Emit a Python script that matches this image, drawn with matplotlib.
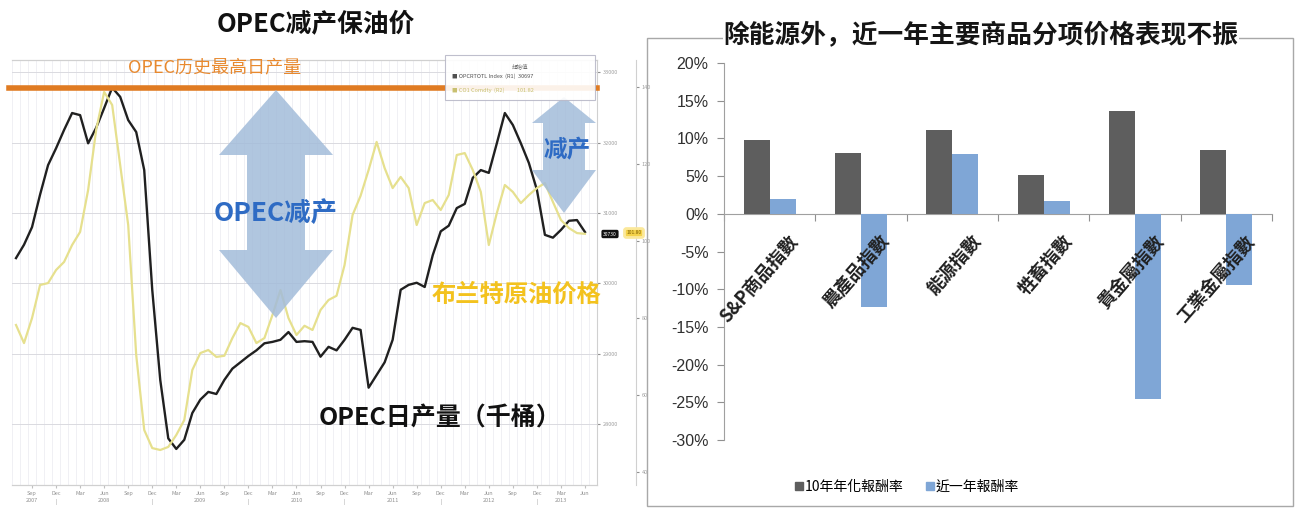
import matplotlib
matplotlib.use("Agg")
import matplotlib.pyplot as plt
import numpy as np
from matplotlib.patches import Polygon, Rectangle
from matplotlib.lines import Line2D

plt.rcParams['font.family'] = ['Noto Sans CJK SC', 'DejaVu Sans']

# ---------------- data ----------------
# monthly, Jul 2007 .. Jun 2013
opec_kbd = [30360, 30550, 30800, 31260, 31680, 31920, 32180, 32420, 32390, 31990,
            32210, 32490, 32780, 32650, 32320, 32150, 31610, 29910, 28630, 27800,
            27650, 27780, 28160, 28350, 28460, 28430, 28630, 28790, 28880, 28970,
            29050, 29150, 29170, 29200, 29310, 29170, 29180, 29170, 28960, 29100,
            29050, 29200, 29370, 29340, 28520, 28700, 28880, 29200, 29910, 29980,
            30010, 29950, 30400, 30740, 30820, 31070, 31130, 31500, 31610, 31570,
            31990, 32420, 32250, 31990, 31710, 31330, 30690, 30650, 30760, 30890,
            30900, 30730]
brent_usd = [78.1, 73.4, 79.9, 88.5, 89.0, 92.4, 94.5, 98.9, 102.3, 113.2,
             128.8, 138.7, 135.3, 119.7, 104.1, 70.3, 50.8, 46.1, 45.6, 46.4,
             49.5, 53.4, 66.4, 70.8, 71.6, 69.8, 70.1, 74.7, 78.6, 77.6,
             73.4, 74.7, 80.7, 87.2, 79.9, 75.5, 77.9, 76.8, 82.0, 84.6,
             85.7, 93.7, 106.7, 111.7, 118.4, 125.7, 118.9, 113.7, 116.6, 113.7,
             104.1, 109.8, 110.6, 108.0, 111.9, 122.3, 122.8, 118.4, 112.7, 98.9,
             107.2, 114.5, 112.7, 109.8, 111.9, 113.7, 115.0, 110.1, 105.4, 103.3,
             102.0, 101.8]
month_names = ['Jul', 'Aug', 'Sep', 'Oct', 'Nov', 'Dec', 'Jan', 'Feb', 'Mar', 'Apr', 'May', 'Jun']
opec_ticks = [28000, 29000, 30000, 31000, 32000, 33000]
brent_ticks = [40, 60, 80, 100, 120, 140]

categories = ['S&P商品指數', '農產品指數', '能源指數', '牲畜指數', '貴金屬指數', '工業金屬指數']
ret_10y = [9.8, 8.0, 11.1, 5.2, 13.6, 8.4]
ret_1y = [1.9, -12.4, 7.9, 1.7, -24.6, -9.4]
series_names = ['10年年化報酬率', '近一年報酬率']

W, H = 1301, 512
fig = plt.figure(figsize=(W / 100, H / 100), dpi=100)

def fx(px):
    return px / W

def fy(py):
    return 1 - py / H

# ---------------- left panel ----------------
ax1 = fig.add_axes([fx(12), fy(485), fx(585), 425 / H])
n = len(opec_kbd)
x = np.arange(n)
ax1.set_xlim(-0.5, n + 0.5)
ax1.set_ylim(27138, 33173)
ax1.set_facecolor('white')
for m in range(n + 1):
    ax1.axvline(m - 0.5, color='#EEEEF3', lw=0.6, zorder=0)
for t in opec_ticks:
    ax1.axhline(t, color='#DADAE0', lw=0.7, zorder=0)

ax1.plot(x, opec_kbd, color='#202020', lw=1.7, zorder=4)

ax2 = ax1.twinx()
ax2.set_ylim(36.5, 147.0)
ax2.plot(x, brent_usd, color='#E6E08E', lw=1.6, zorder=3)

for a in (ax1, ax2):
    for s in a.spines.values():
        s.set_color('#D0D0D0')
        s.set_linewidth(0.8)
ax1.spines['left'].set_visible(False)
ax2.spines['left'].set_visible(False)
ax1.yaxis.tick_right()
ax1.set_yticks(opec_ticks)
ax1.set_yticklabels([f'{t}' for t in opec_ticks], fontsize=4, color='#A0A0A0')
ax1.tick_params(axis='y', length=2, color='#909090', pad=2)
ax2.spines['right'].set_position(('outward', 28))
ax2.set_yticks(brent_ticks)
ax2.set_yticklabels([f'{t}' for t in brent_ticks], fontsize=4, color='#A0A0A0')
ax2.tick_params(axis='y', length=2, color='#909090', pad=2)

# x ticks (quarterly)
tick_pos = list(range(2, n, 3))
tick_lab = []
for m in tick_pos:
    name = month_names[m % 12]
    year = 2007 + (m + 6) // 12
    if m == 2:
        sub = str(year)
    elif name == 'Jun' and year < 2013:
        sub = str(year)
    elif name == 'Mar' and year == 2013:
        sub = str(year)
    elif name == 'Dec':
        sub = '|'
    else:
        sub = ''
    tick_lab.append(name + '\n' + sub)
ax1.set_xticks(tick_pos)
ax1.set_xticklabels(tick_lab, fontsize=4, color='#909090', linespacing=1.6)
ax1.tick_params(axis='x', length=2, color='#C0C0C0', pad=2)

# historic max line
ax1.axhline(max(opec_kbd), color='#E07B22', lw=4, zorder=5, xmin=-0.005, clip_on=False)
fig.text(fx(215), fy(67), 'OPEC历史最高日产量', color='#E8892E', fontsize=13,
         ha='center', va='center')

# double arrows (figure pixel coords)
def double_arrow(cx, top, hbase1, hbase2, bot, hw, sw, color='#A3BCDA', alpha=0.85):
    pts = [(cx, top), (cx + hw, hbase1), (cx + sw, hbase1), (cx + sw, hbase2),
           (cx + hw, hbase2), (cx, bot), (cx - hw, hbase2), (cx - sw, hbase2),
           (cx - sw, hbase1), (cx - hw, hbase1)]
    pts = [(fx(px), fy(py)) for px, py in pts]
    fig.patches.append(Polygon(pts, closed=True, transform=fig.transFigure,
                               facecolor=color, edgecolor='none', alpha=alpha, zorder=2))

double_arrow(276, 90, 155, 250, 318, 57, 29)
double_arrow(564, 97, 123, 170, 213, 32, 21)

fig.text(fx(276), fy(213), 'OPEC减产', color='#2E6BC4', fontsize=19, fontweight='bold',
         ha='center', va='center', zorder=6)
fig.text(fx(567), fy(150), '减产', color='#2E6BC4', fontsize=17, fontweight='bold',
         ha='center', va='center', zorder=6)
fig.text(fx(517), fy(295), '布兰特原油价格', color='#F3C21E', fontsize=17.5, fontweight='bold',
         ha='center', va='center', zorder=6)
fig.text(fx(440), fy(418), 'OPEC日产量（千桶）', color='#111111', fontsize=18, fontweight='bold',
         ha='center', va='center', zorder=6)
fig.text(fx(316), fy(24), 'OPEC减产保油价', color='#111111', fontsize=18.5, fontweight='bold',
         ha='center', va='center')

# legend box of the source chart
lg = Rectangle((fx(445), fy(100)), fx(150), 45 / H, transform=fig.transFigure,
               facecolor='white', edgecolor='#B8B8C8', lw=0.8, alpha=0.9, zorder=7)
fig.patches.append(lg)
fig.text(fx(520), fy(66), '起始值', fontsize=4, color='#707070', ha='center', va='center', zorder=8)
fig.text(fx(452), fy(76), '■ OPCRTOTL Index  (R1)  30697', fontsize=4, color='#505050',
         ha='left', va='center', zorder=8)
fig.text(fx(452), fy(90), '■ CO1 Comdty  (R2)          101.82', fontsize=4, color='#C8C070',
         ha='left', va='center', zorder=8)

# last-value tags
fig.text(fx(610), fy(234), f'{opec_kbd[-1]}', fontsize=3.5, color='white', ha='center', va='center',
         bbox=dict(boxstyle='round,pad=0.35', fc='#111111', ec='none'), zorder=8)
fig.text(fx(634), fy(233), f'{brent_usd[-1]:.2f}', fontsize=3.5, color='#806000', ha='center', va='center',
         bbox=dict(boxstyle='round,pad=0.4', fc='#F4D24A', ec='#FBE89A', lw=2), zorder=8)

# ---------------- right panel ----------------
fig.patches.append(Rectangle((fx(647), fy(506)), fx(646), 468 / H, transform=fig.transFigure,
                             facecolor='none', edgecolor='#A8A8A8', lw=1.0, zorder=1))
ax3 = fig.add_axes([fx(724), fy(440), fx(548), 377 / H])
ax3.set_facecolor('none')
ncat = len(categories)
xc = np.arange(ncat)
bw = 0.285
ax3.bar(xc - bw / 2, ret_10y, width=bw, color='#5E5E5E', label=series_names[0], zorder=3)
ax3.bar(xc + bw / 2, ret_1y, width=bw, color='#7FA6D6', label=series_names[1], zorder=3)
ax3.set_xlim(-0.5, ncat - 0.5)
ax3.set_ylim(-30, 20)
ax3.set_yticks(np.arange(-30, 21, 5))
ax3.set_yticklabels([f'{v}%' for v in range(-30, 21, 5)], fontsize=11.5, color='#303030',
                    family=['Liberation Sans Narrow', 'Liberation Sans', 'DejaVu Sans'])
ax3.tick_params(axis='y', length=5, color='#909090', width=0.8, pad=6)
for s in ('top', 'right'):
    ax3.spines[s].set_visible(False)
ax3.spines['left'].set_color('#A0A0A0')
ax3.spines['bottom'].set_position(('data', 0))
ax3.spines['bottom'].set_color('#A0A0A0')
ax3.set_xticks(np.arange(-0.5, ncat, 1.0))
ax3.set_xticklabels([])
ax3.tick_params(axis='x', direction='out', length=5, color='#909090', width=0.8)

for i, c in enumerate(categories):
    ax3.text(i + 0.2, -2.4, c, rotation=49, ha='right', va='top', rotation_mode='anchor',
             fontsize=13, fontweight='bold', color='#202020',
             family=['Noto Sans CJK TC', 'DejaVu Sans'], zorder=5)

handles = [Line2D([], [], marker='s', ls='none', color='#5E5E5E', markersize=5.5),
           Line2D([], [], marker='s', ls='none', color='#7FA6D6', markersize=5.5)]
fig.legend(handles, series_names, loc='center', bbox_to_anchor=(fx(907), fy(487)), ncol=2,
           frameon=False, handlelength=0.6, handletextpad=0.1, columnspacing=1.6,
           prop={'family': ['Noto Sans CJK TC', 'DejaVu Sans'], 'size': 10})

fig.text(fx(981), fy(35), '除能源外，近一年主要商品分项价格表现不振', fontsize=18.5,
         fontweight='bold', color='#151515', ha='center', va='center',
         bbox=dict(fc='white', ec='none', pad=0.5), zorder=10)

fig.savefig('out.png', dpi=100)
